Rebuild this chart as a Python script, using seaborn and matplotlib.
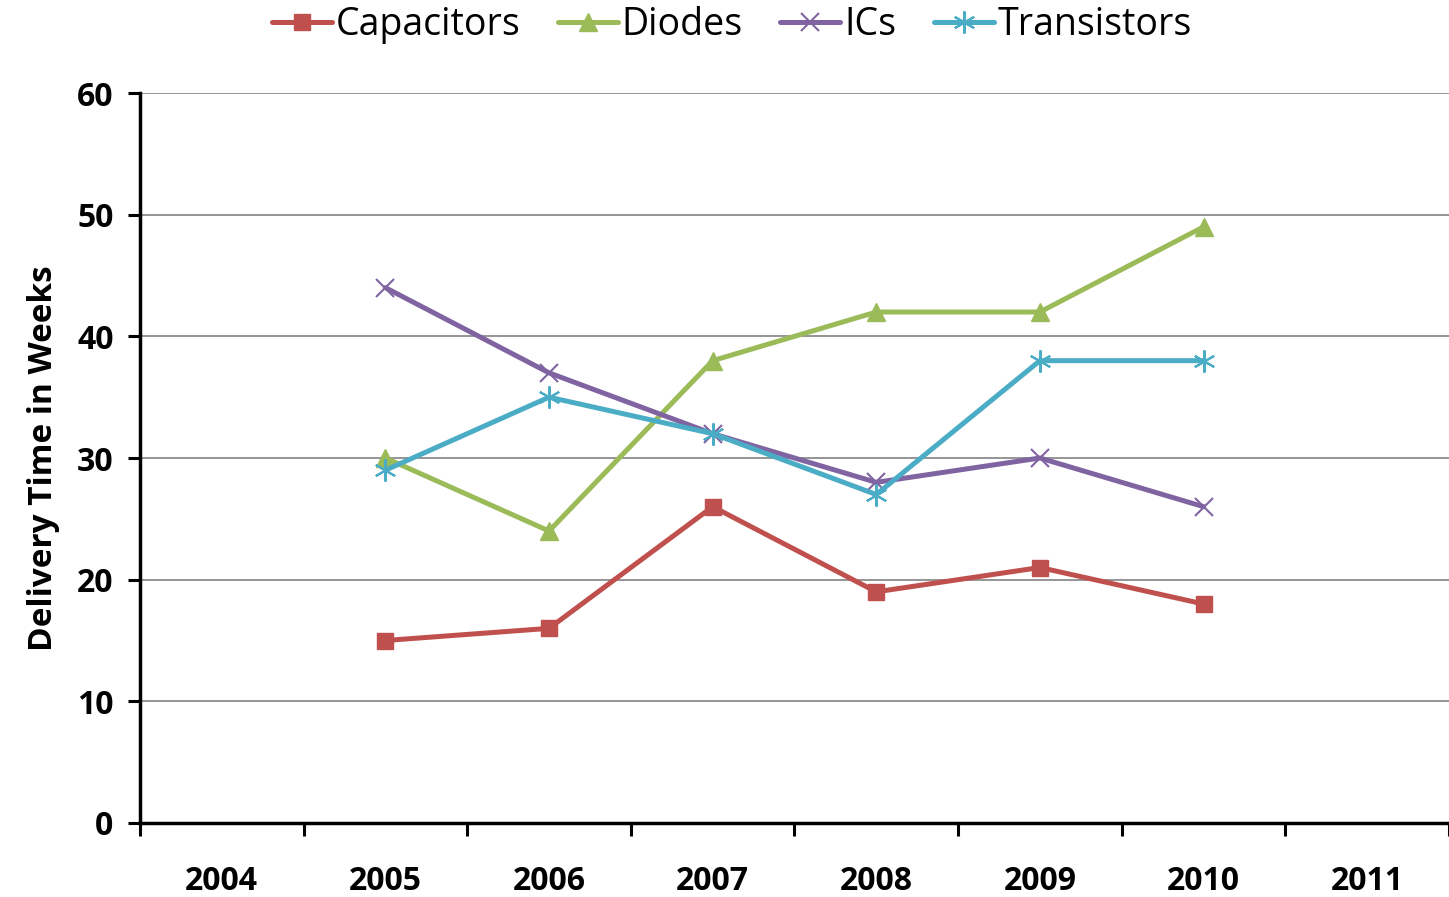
import numpy as np
import pandas as pd
import matplotlib
matplotlib.use('Agg')
import matplotlib.pyplot as plt
import seaborn as sns
from matplotlib.ticker import FixedLocator, NullFormatter

# ==========================================
# DADOS
# ==========================================

anos_eixo = [2004, 2005, 2006, 2007, 2008, 2009, 2010, 2011]
anos = [2005, 2006, 2007, 2008, 2009, 2010]

capacitors = [15, 16, 26, 19, 21, 18]
diodes = [30, 24, 38, 42, 42, 49]
ics = [44, 37, 32, 28, 30, 26]
transistors = [29, 35, 32, 27, 38, 38]

series = ['Capacitors', 'Diodes', 'ICs', 'Transistors']
cores = ['#C0504D', '#9BBB59', '#8064A2', '#4BACC6']
marcadores = ['s', '^', 'x', (6, 2, 0)]

df = pd.DataFrame({
    'ano': anos * 4,
    'serie': np.repeat(series, len(anos)),
    'valor': capacitors + diodes + ics + transistors,
})
# posição categórica (índice do ano no eixo)
df['pos'] = df['ano'].map({a: i for i, a in enumerate(anos_eixo)})

# ==========================================
# VISUALIZAÇÃO
# ==========================================

sns.set_style('white')
plt.rcParams['font.family'] = ['Open Sans', 'DejaVu Sans']
plt.rcParams['text.color'] = 'black'
plt.rcParams['axes.labelcolor'] = 'black'
plt.rcParams['xtick.color'] = 'black'
plt.rcParams['ytick.color'] = 'black'

fig = plt.figure(figsize=(14.49, 8.97), dpi=100)
ax = fig.add_axes([0.0966, 0.0825, 0.9034, 0.8138])

for nome, cor, mk in zip(series, cores, marcadores):
    sub = df[df['serie'] == nome]
    tam = {'s': 11, '^': 13, 'x': 13}.get(mk, 16)
    sns.lineplot(
        data=sub, x='pos', y='valor', ax=ax,
        color=cor, linewidth=3.6, label=nome,
        marker=mk, markersize=tam,
        markeredgecolor=cor, markeredgewidth=1.5 if mk in ('x', (6, 2, 0)) else 1,
    )

ax.set_xlim(-0.5, len(anos_eixo) - 0.5)
ax.set_ylim(0, 60)
ax.set_yticks(range(0, 61, 10))
ax.yaxis.grid(True, color='#8c8c8c', linewidth=1.3)
ax.xaxis.grid(False)

# ticks nas fronteiras, rótulos no centro das categorias
ax.xaxis.set_major_locator(FixedLocator(np.arange(-0.5, len(anos_eixo), 1.0)))
ax.xaxis.set_major_formatter(NullFormatter())
ax.xaxis.set_minor_locator(FixedLocator(np.arange(len(anos_eixo))))
ax.set_xticklabels([str(a) for a in anos_eixo], minor=True)
ax.tick_params(axis='x', which='major', bottom=True, direction='out',
               length=9, width=2.2, color='black')
ax.tick_params(axis='x', which='minor', bottom=True, length=0, pad=30, labelsize=23)
ax.tick_params(axis='y', left=True, direction='out', length=9, width=2.2,
               color='black', labelsize=23, pad=10)
for lbl in ax.get_xticklabels(minor=True) + ax.get_yticklabels():
    lbl.set_fontweight('bold')

for lado in ['top', 'right']:
    ax.spines[lado].set_visible(False)
for lado in ['left', 'bottom']:
    ax.spines[lado].set_color('black')
    ax.spines[lado].set_linewidth(2.5)

ax.set_xlabel('')
ax.set_ylabel('Delivery Time in Weeks', fontsize=24, fontweight='bold', labelpad=12)

ax.legend(
    loc='center', bbox_to_anchor=(0.505, 0.972), bbox_transform=fig.transFigure,
    ncol=4, frameon=False,
    fontsize=27, handlelength=1.6, handletextpad=0.1, columnspacing=1.0,
)

plt.savefig('out.png', dpi=100)
